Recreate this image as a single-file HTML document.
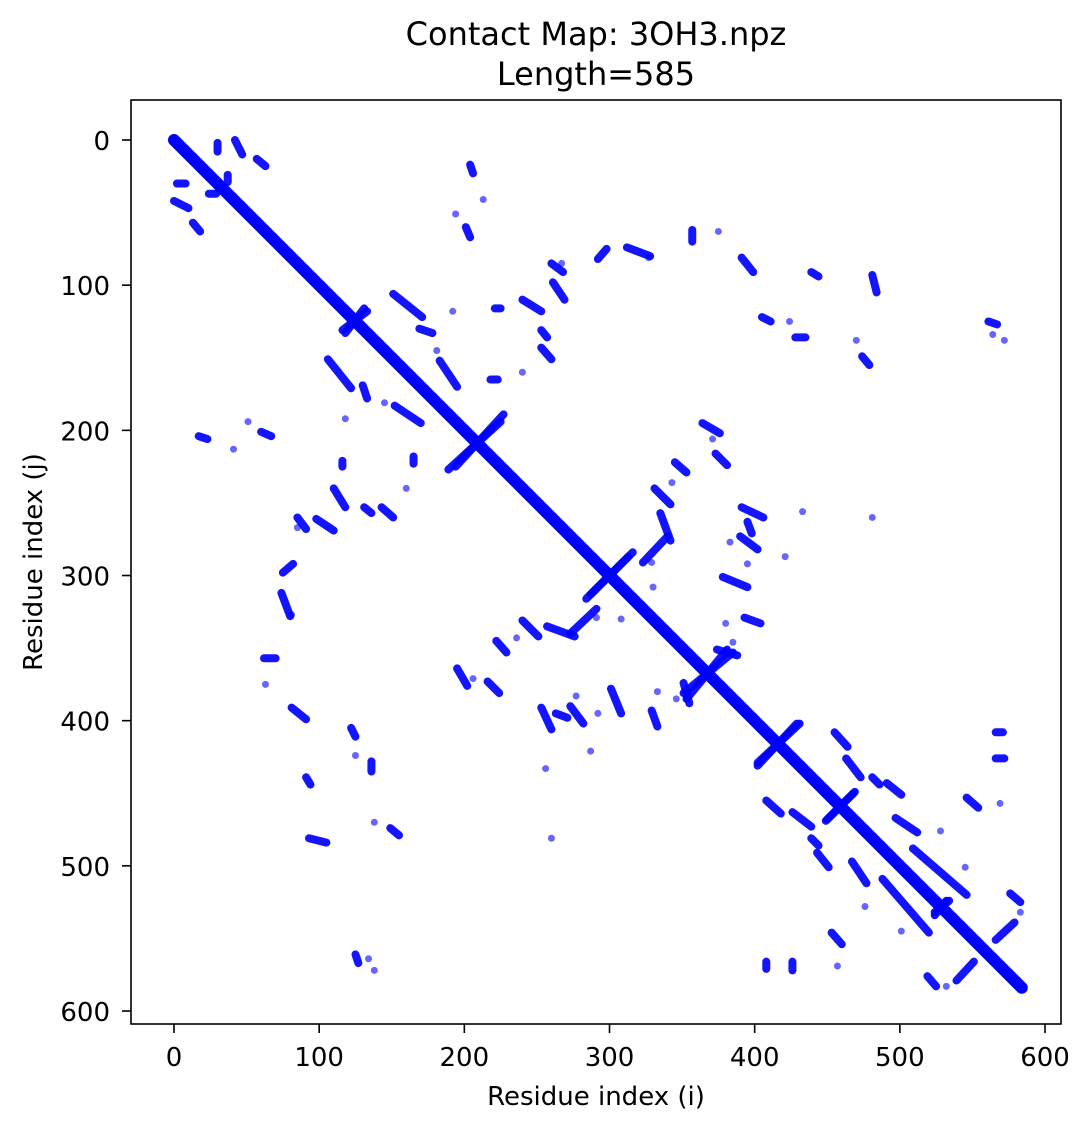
<!DOCTYPE html>
<html><head><meta charset="utf-8">
<style>
html,body{margin:0;padding:0;background:#fff;}
svg{display:block;font-family:"DejaVu Sans","Liberation Sans",sans-serif;}
</style></head>
<body>
<svg id="chart" width="1088" height="1131" viewBox="0 0 1088 1131" xmlns="http://www.w3.org/2000/svg">
<rect width="1088" height="1131" fill="#fff"/>
<text x="596" y="45" text-anchor="middle" font-size="32">Contact Map: 3OH3.npz</text>
<text x="596" y="85" text-anchor="middle" font-size="32">Length=585</text>
<g id="marks"></g>
<rect x="131" y="100" width="930" height="924" fill="none" stroke="#000" stroke-width="1.6"/>
<g id="axes"></g>
<text x="596" y="1105" text-anchor="middle" font-size="26">Residue index (i)</text>
<text transform="translate(42,562) rotate(-90)" text-anchor="middle" font-size="26">Residue index (j)</text>
</svg>
<script>
// contact segments (upper triangle i>j, mirrored automatically)
const startI = [42,30,57,37,204,201,292,312,357,391,439,481,405,428,474,561,364,373,345,331,335,340,391,395,390,378,393,385,313,431,469,534,455,463,481,491,566,566,546,497,509,576,579,260,261,240,221,253,253,218,151,169,183,227,133,374];
const startJ = [0,2,13,24,17,60,82,74,62,81,91,93,122,136,149,125,195,216,222,240,257,273,253,263,273,301,329,353,287,402,449,524,408,426,439,443,408,426,453,467,488,519,539,85,98,110,116,131,143,165,106,130,152,189,118,351];
const endI = [47,30,63,37,206,204,298,328,357,399,444,484,411,435,479,567,376,381,353,342,342,323,406,398,402,395,404,351,284,402,450,524,464,473,486,501,571,572,554,512,546,583,566,268,269,253,225,257,260,223,171,178,195,194,116,388];
const endJ = [10,8,18,29,23,67,75,80,70,91,94,105,125,136,155,127,202,224,229,251,276,291,260,271,282,308,333,381,316,429,468,532,418,439,444,451,408,426,460,477,520,525,551,91,110,118,116,136,151,165,122,133,170,225,131,355];
// isolated contacts (i>j)
const dotI = [327,375,371,343,329,330,383,395,433,481,421,267,213,194,192,240,181,380,385,424,470,564,572,569,528,545,583];
const dotJ = [81,63,206,236,291,308,277,292,256,260,287,85,41,51,118,160,145,333,346,125,138,134,138,457,476,501,532];
// main diagonal
const diagStart = [0];
const diagEnd = [584];
// ticks
const xTicks = [0,100,200,300,400,500,600];
const yTicks = [0,100,200,300,400,500,600];

const NS = "http://www.w3.org/2000/svg";
const X0 = 174, Y0 = 140, S = 1.4517;
function sx(v){ return X0 + v*S; }
function sy(v){ return Y0 + v*S; }
const marks = document.getElementById('marks');
const axes = document.getElementById('axes');

function line(x1,y1,x2,y2,w,op,name){
  const l = document.createElementNS(NS,'line');
  l.setAttribute('x1',x1); l.setAttribute('y1',y1);
  l.setAttribute('x2',x2); l.setAttribute('y2',y2);
  l.setAttribute('stroke','#0000ff'); l.setAttribute('stroke-width',w);
  l.setAttribute('stroke-linecap','round'); l.setAttribute('stroke-opacity',op);
  
  
  marks.appendChild(l);
}
for (let k=0;k<diagStart.length;k++){
  line(sx(diagStart[k]),sy(diagStart[k]),sx(diagEnd[k]),sy(diagEnd[k]),12,1,'diagonal-contacts');
}
for (let k=0;k<startI.length;k++){
  line(sx(startI[k]),sy(startJ[k]),sx(endI[k]),sy(endJ[k]),8,0.92,'contact-cluster');
  line(sx(startJ[k]),sy(startI[k]),sx(endJ[k]),sy(endI[k]),8,0.92,'contact-cluster-mirror');
}
for (let k=0;k<dotI.length;k++){
  [[dotI[k],dotJ[k]],[dotJ[k],dotI[k]]].forEach(p=>{
    const c = document.createElementNS(NS,'circle');
    c.setAttribute('cx',sx(p[0])); c.setAttribute('cy',sy(p[1]));
    c.setAttribute('r',3.5); c.setAttribute('fill','#0000ff'); c.setAttribute('fill-opacity',0.6);
    
    
    marks.appendChild(c);
  });
}
xTicks.forEach(v=>{
  const x = sx(v);
  const t = document.createElementNS(NS,'line');
  t.setAttribute('x1',x); t.setAttribute('x2',x); t.setAttribute('y1',1024); t.setAttribute('y2',1033);
  t.setAttribute('stroke','#000'); t.setAttribute('stroke-width',1.6);
  
  
  axes.appendChild(t);
  const tx = document.createElementNS(NS,'text');
  tx.setAttribute('x',x); tx.setAttribute('y',1066); tx.setAttribute('text-anchor','middle'); tx.setAttribute('font-size','26');
  tx.textContent = v;
  
  
  axes.appendChild(tx);
});
yTicks.forEach(v=>{
  const y = sy(v);
  const t = document.createElementNS(NS,'line');
  t.setAttribute('x1',122); t.setAttribute('x2',131); t.setAttribute('y1',y); t.setAttribute('y2',y);
  t.setAttribute('stroke','#000'); t.setAttribute('stroke-width',1.6);
  
  
  axes.appendChild(t);
  const tx = document.createElementNS(NS,'text');
  tx.setAttribute('x',110); tx.setAttribute('y',y+10); tx.setAttribute('text-anchor','end'); tx.setAttribute('font-size','26');
  tx.textContent = v;
  
  
  axes.appendChild(tx);
});
</script>
</body></html>
